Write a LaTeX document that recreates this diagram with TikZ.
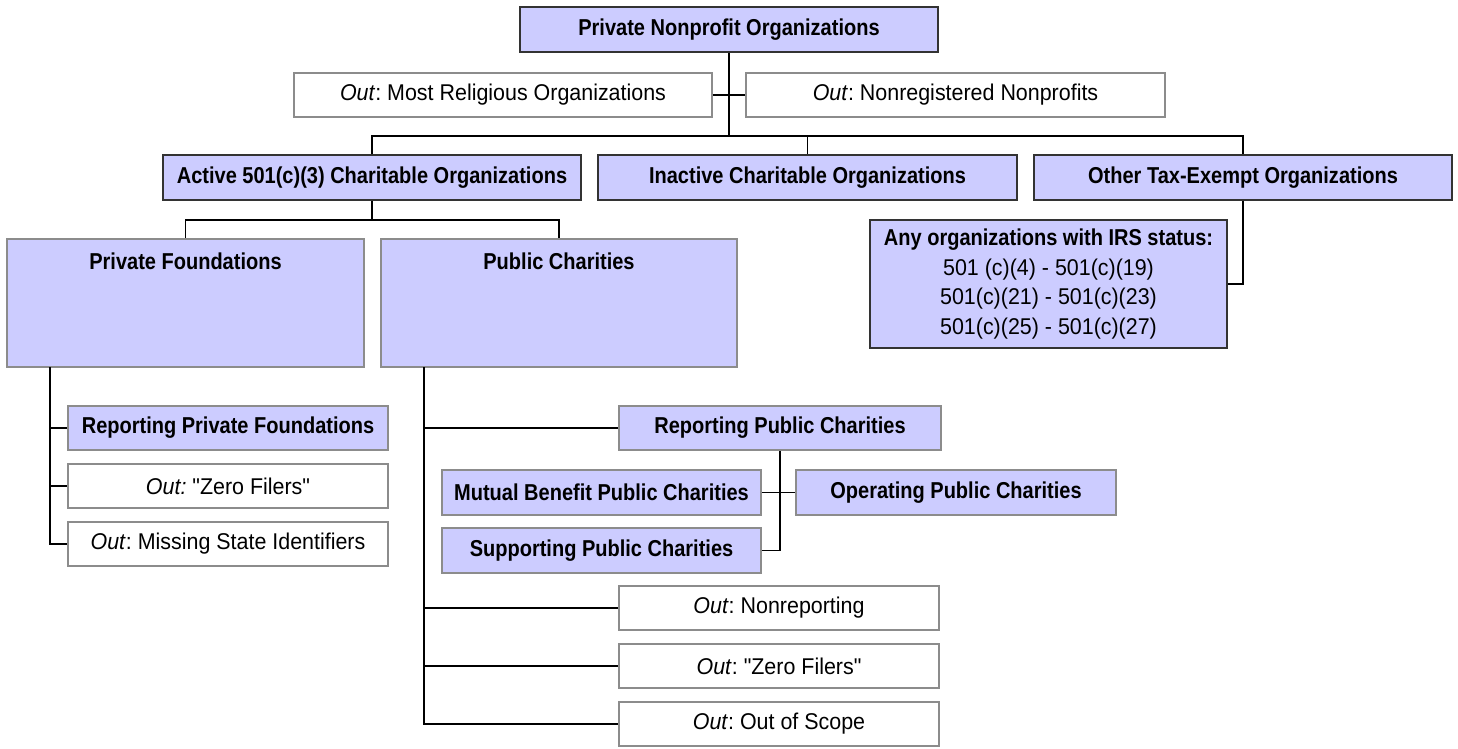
\documentclass[tikz,border=0pt]{standalone}
\usepackage{fontspec}
\setmainfont{Liberation Sans}[Ligatures=TeXOff, FakeStretch=0.94, BoldFeatures={FakeStretch=0.87}, ItalicFeatures={FakeStretch=0.94}]
\usetikzlibrary{calc}
\definecolor{lav}{HTML}{CCCCFF}
\definecolor{darkb}{HTML}{333333}
\definecolor{grayb}{HTML}{8C8C8C}
\begin{document}
\frenchspacing
\begin{tikzpicture}[x=1pt,y=-1pt,
  basebox/.style={rectangle, inner sep=0pt, align=center, font=\fontsize{22.8}{29.5}\selectfont},
  darkbox/.style={basebox, fill=lav, draw=darkb, line width=1.4pt, font=\fontsize{23}{29.5}\selectfont\bfseries},
  graybox/.style={basebox, fill=lav, draw=grayb, line width=1.5pt, font=\fontsize{23}{29.5}\selectfont\bfseries},
  outbox/.style={basebox, fill=white, draw=grayb, line width=1.5pt},
  boldtxt/.style={inner sep=0pt, font=\fontsize{23}{29.5}\selectfont\bfseries},
  conn/.style={draw=black, line width=1.5pt}]
\useasboundingbox (0,0) rectangle (1458,749);

% level 0
\node[darkbox, minimum width=418pt, minimum height=45pt] (top) at (729,29.5) {Private Nonprofit Organizations};
\node[outbox, minimum width=418pt, minimum height=44pt] (rel) at (503,95) {\textit{Out}: Most Religious Organizations};
\node[outbox, minimum width=419pt, minimum height=44pt] (nonreg) at (955.5,95) {\textit{Out}: Nonregistered Nonprofits};

% level 1
\node[darkbox, minimum width=418pt, minimum height=45pt] (active) at (372,177.5) {Active 501(c)(3) Charitable Organizations};
\node[darkbox, minimum width=419pt, minimum height=45pt] (inactive) at (807.5,177.5) {Inactive Charitable Organizations};
\node[darkbox, minimum width=418pt, minimum height=45pt] (other) at (1243,177.5) {Other Tax-Exempt Organizations};

% level 2
\node[graybox, minimum width=357pt, minimum height=128pt] (pf) at (185.5,303) {};
\node[boldtxt] (pft) at ($(pf.north)+(0,23)$) {Private Foundations};
\node[graybox, minimum width=356pt, minimum height=128pt] (pc) at (559,303) {};
\node[boldtxt] (pct) at ($(pc.north)+(0,23)$) {Public Charities};
\node[darkbox, minimum width=357pt, minimum height=128pt, font=\fontsize{22.8}{29.5}\selectfont] (any) at (1048.5,284)
  {{\fontsize{23}{29.5}\selectfont\bfseries Any organizations with IRS status:}\\501 (c)(4) - 501(c)(19)\\501(c)(21) - 501(c)(23)\\501(c)(25) - 501(c)(27)};

% private foundations branch
\node[graybox, minimum width=320pt, minimum height=44pt] (rpf) at (228,428) {Reporting Private Foundations};
\node[outbox, minimum width=320pt, minimum height=44pt] (zf1) at (228,486) {\textit{Out:} "Zero Filers"};
\node[outbox, minimum width=320pt, minimum height=44pt] (msi) at (228,544) {\textit{Out}: Missing State Identifiers};

% public charities branch
\node[graybox, minimum width=322pt, minimum height=44pt] (rpc) at (780,428) {Reporting Public Charities};
\node[graybox, minimum width=319pt, minimum height=45pt] (mut) at (601.5,492.5) {Mutual Benefit Public Charities};
\node[graybox, minimum width=320pt, minimum height=45pt] (op) at (956,492.5) {Operating Public Charities};
\node[graybox, minimum width=319pt, minimum height=45pt] (sup) at (601.5,550.5) {Supporting Public Charities};
\node[outbox, minimum width=320pt, minimum height=44pt] (nrep) at (779,608) {\textit{Out}: Nonreporting};
\node[outbox, minimum width=320pt, minimum height=44pt] (zf2) at (779,666) {\textit{Out}: "Zero Filers"};
\node[outbox, minimum width=320pt, minimum height=44pt] (oos) at (779,724) {\textit{Out}: Out of Scope};

% helper coordinates
\coordinate (b1) at (729,136);
\coordinate (b2) at (372,220);
\coordinate (pfl) at (50,367);
\coordinate (pcl) at (424,367);

% connectors
\draw[conn] (top.south) -- (b1);
\draw[conn] (rel.east) -- (nonreg.west);
\draw[conn] (active.north) |- (b1) -| (other.north);
\draw[conn] (inactive.north) -- (inactive.north |- b1);
\draw[conn] (active.south) -- (b2);
\draw[conn] (pf.north) |- (b2) -| (pc.north);
\draw[conn] (other.south) |- (any.east);
\draw[conn] (pfl) |- (msi.west);
\draw[conn] (pfl |- rpf.west) -- (rpf.west);
\draw[conn] (pfl |- zf1.west) -- (zf1.west);
\draw[conn] (pcl) |- (oos.west);
\draw[conn] (pcl |- rpc.west) -- (rpc.west);
\draw[conn] (pcl |- nrep.west) -- (nrep.west);
\draw[conn] (pcl |- zf2.west) -- (zf2.west);
\draw[conn] (rpc.south) |- (sup.east);
\draw[conn] (mut.east) -- (op.west);
\end{tikzpicture}
\end{document}
